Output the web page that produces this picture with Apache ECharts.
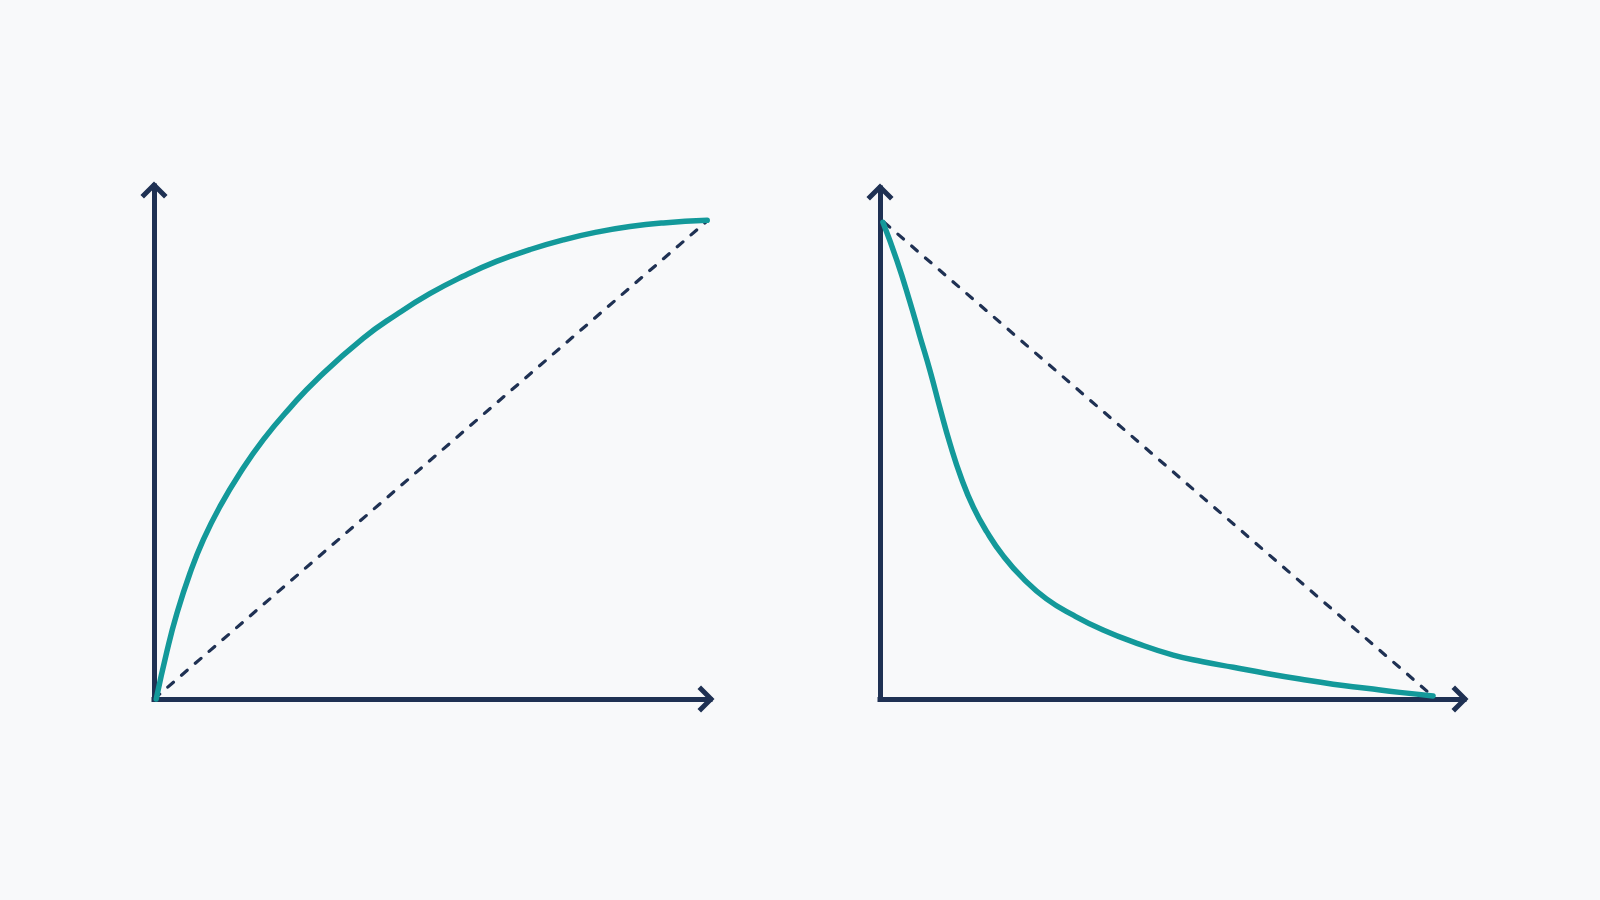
<!DOCTYPE html>
<html>
<head>
<meta charset="utf-8">
<title>Curves</title>
<script src="https://cdn.jsdelivr.net/npm/echarts@6/dist/echarts.min.js"></script>
<style>
  html, body { margin: 0; padding: 0; background: #f8f9fa; }
  #chart { width: 1600px; height: 900px; }
</style>
</head>
<body>
<div id="chart"></div>
<script>
// left panel: fast rise then flattening, with straight reference diagonal
const riseCurve = [
    [0.4, 0], [2.3, 9.2], [4.1, 16.6], [6.5, 24.6], [8.9, 31.1], [11.9, 37.6],
    [15.5, 44.1], [19.7, 50.6], [24.5, 56.8], [29.3, 62.3], [37.6, 70.3],
    [43.7, 75.0], [49.6, 79.0], [55.6, 82.4], [61.6, 85.3], [67.6, 87.6],
    [73.6, 89.5], [79.6, 91.0], [85.6, 92.1], [91.6, 92.8], [99.5, 93.3]
];
const riseDiagonal = [[0, 0], [99.5, 93.2]];

// right panel: steep drop then long tail, with straight reference diagonal
const dropCurve = [
    [0.5, 93.3], [2.9, 85.8], [5.1, 77.8], [6.8, 71.1], [8.6, 64.1], [10.3, 56.8],
    [12.0, 49.9], [13.9, 43.3], [16.0, 37.5], [18.3, 32.7], [21.1, 28.0],
    [24.5, 23.6], [28.5, 19.6], [33.1, 16.4], [38.2, 13.5], [44.0, 10.9],
    [50.2, 8.6], [55.3, 7.3], [60.5, 6.2], [66.2, 5.0], [71.9, 3.9],
    [77.6, 2.9], [83.3, 2.1], [89.0, 1.3], [94.7, 0.6]
];
const dropDiagonal = [[0.7, 93.3], [93.8, 1.4]];

const navy = "#1f3153";
const teal = "#13999a";
// open chevron arrow head, pointing up
const chevron = "path://M15 0 L28.8 13.7 L25.2 17.3 L15 7.1 L4.8 17.3 L1.2 13.7 Z";

function axis(gridIndex) {
    return {
        type: "value",
        gridIndex: gridIndex,
        min: 0,
        max: 100,
        splitLine: { show: false },
        axisTick: { show: false },
        axisLabel: { show: false },
        axisLine: {
            show: true,
            onZero: false,
            symbol: ["none", chevron],
            symbolSize: [28, 17],
            symbolOffset: [0, -4],
            lineStyle: { color: navy, width: 5, cap: "square" }
        }
    };
}

function curve(data, idx) {
    return {
        type: "line",
        xAxisIndex: idx,
        yAxisIndex: idx,
        data: data,
        smooth: 0.5,
        showSymbol: false,
        clip: false,
        lineStyle: { color: teal, width: 5.5, cap: "round", join: "round" },
        z: 3
    };
}

function diagonal(data, idx) {
    return {
        type: "line",
        xAxisIndex: idx,
        yAxisIndex: idx,
        data: data,
        showSymbol: false,
        clip: false,
        lineStyle: { color: navy, width: 3.2, type: [7.5, 10.7], cap: "round" },
        z: 2
    };
}

const chart = echarts.init(document.getElementById("chart"));
chart.setOption({
    backgroundColor: "#f8f9fa",
    animation: false,
    grid: [
        { left: 154, top: 186, width: 556, height: 513 },
        { left: 880, top: 188, width: 584, height: 511 }
    ],
    xAxis: [axis(0), axis(1)],
    yAxis: [axis(0), axis(1)],
    series: [
        diagonal(riseDiagonal, 0),
        curve(riseCurve, 0),
        diagonal(dropDiagonal, 1),
        curve(dropCurve, 1)
    ]
});
</script>
</body>
</html>
